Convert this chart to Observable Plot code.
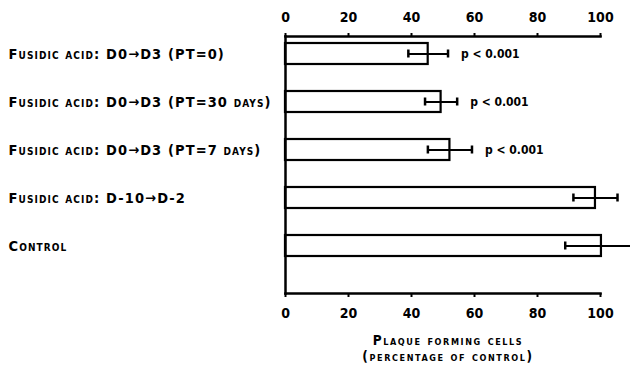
<!DOCTYPE html>
<html>
<head>
<meta charset="utf-8">
<script src="https://cdn.jsdelivr.net/npm/d3@7"></script>
<script src="https://cdn.jsdelivr.net/npm/@observablehq/plot@0.6"></script>
<style>
  html, body { margin: 0; padding: 0; background: #fff; }
  #chart { width: 630px; height: 370px; overflow: hidden; }
  .cat-label text { letter-spacing: 1.1px; }
  .axis-title text { letter-spacing: 1.6px; }
</style>
</head>
<body>
<div id="chart"></div>
<script>
const categories = [
  "Fusidic acid: D0→D3 (PT=0)",
  "Fusidic acid: D0→D3 (PT=30 days)",
  "Fusidic acid: D0→D3 (PT=7 days)",
  "Fusidic acid: D-10→D-2",
  "Control"
];
const values = [45.3, 49.4, 52.2, 98.4, 100.3];
const errors = [6.3, 5.1, 7.0, 7.0, 11.5];
const pLabels = ["p < 0.001", "p < 0.001", "p < 0.001", "", ""];
const xTicks = [0, 20, 40, 60, 80, 100];
const axisTitle = ["Plaque forming cells", "(percentage of control)"];

const rows = categories.map((c, i) => ({
  label: c, value: values[i], lo: values[i] - errors[i], hi: values[i] + errors[i], p: pLabels[i]
}));

const font = "'DejaVu Sans Condensed', 'DejaVu Sans', sans-serif";

const chart = Plot.plot({
  width: 630,
  height: 370,
  marginLeft: 285,
  marginRight: 30,
  marginTop: 36,
  marginBottom: 77,
  style: { fontFamily: font, fontWeight: "bold", fontSize: "14px", color: "#000", background: "#fff", overflow: "hidden" },
  x: { domain: [0, 100], axis: null },
  y: { type: "band", domain: categories, range: [32.8, 266.3], paddingInner: 0.565, paddingOuter: 0.2, axis: null },
  marks: [
    Plot.barX(rows, { y: "label", x: "value", fill: "white", stroke: "black", strokeWidth: 2.2 }),
    Plot.ruleY(rows, { y: "label", x1: "lo", x2: "hi", stroke: "black", strokeWidth: 2.2 }),
    Plot.tickX(rows, { y: "label", x: "lo", stroke: "black", strokeWidth: 2.5, insetTop: 6.5, insetBottom: 6.5 }),
    Plot.tickX(rows, { y: "label", x: "hi", stroke: "black", strokeWidth: 2.5, insetTop: 6.5, insetBottom: 6.5 }),
    Plot.text(rows.filter(d => d.p), { y: "label", x: "hi", text: "p", dx: 13, textAnchor: "start", fontSize: 12, fontFamily: font, fontWeight: "bold" }),
    Plot.text(rows, { y: "label", text: "label", frameAnchor: "left", dx: -277, textAnchor: "start", fontSize: 14.5, fontVariant: "small-caps", fontFamily: font, fontWeight: "bold", className: "cat-label" }),
    Plot.frame({ anchor: "top", strokeWidth: 2.5 }),
    Plot.frame({ anchor: "bottom", strokeWidth: 2.5 }),
    Plot.frame({ anchor: "left", strokeWidth: 2.5 }),
    Plot.axisX({ anchor: "top", ticks: xTicks, tickSize: 4, tickPadding: 11, fontSize: 14, strokeWidth: 2, tickFormat: d => String(d) }),
    Plot.axisX({ anchor: "bottom", ticks: xTicks, tickSize: 4, tickPadding: 11, fontSize: 14, strokeWidth: 2, tickFormat: d => String(d), label: null }),
    Plot.text([axisTitle[0]], { text: d => d, frameAnchor: "bottom", dx: 5, dy: 51, fontSize: 13.5, fontVariant: "small-caps", fontFamily: font, fontWeight: "bold", className: "axis-title" }),
    Plot.text([axisTitle[1]], { text: d => d, frameAnchor: "bottom", dx: 5, dy: 67, fontSize: 13.5, fontVariant: "small-caps", fontFamily: font, fontWeight: "bold", className: "axis-title" })
  ]
});
document.getElementById("chart").appendChild(chart);
</script>
</body>
</html>
